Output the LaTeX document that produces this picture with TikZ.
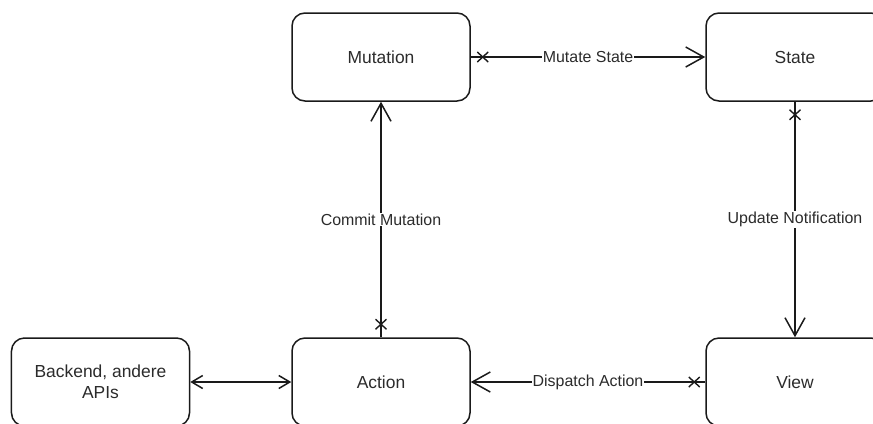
\documentclass[tikz,border=0pt]{standalone}
\usepackage{fontspec}
\setmainfont{Liberation Sans}
\usetikzlibrary{arrows.meta}
\definecolor{ink}{HTML}{1A1A1A}
\definecolor{txt}{HTML}{2B2B2B}
\begin{document}
\begin{tikzpicture}[x=1bp,y=-1bp,
  box/.style={draw=ink, line width=1.5bp, rounded corners=13bp,
    minimum width=178bp, minimum height=88bp, inner sep=0pt,
    align=center, text=txt, font=\fontsize{17.5}{21}\selectfont},
  link/.style={draw=ink, line width=1.5bp},
  opentip/.style={-{Straight Barb[length=18bp,width=20bp,line width=1.5bp]}},
  smalltip/.style={{Straight Barb[length=11bp,width=13bp,line width=1.5bp]}-{Straight Barb[length=11bp,width=13bp,line width=1.5bp]}},
  edgelabel/.style={fill=white, inner sep=1bp, text=txt, font=\fontsize{16}{19}\selectfont},
  crossmark/.pic={\draw[draw=ink, line width=1.4bp] (-5.5,-5) -- (5.5,5) (-5.5,5) -- (5.5,-5);}
]
\useasboundingbox (0,0) rectangle (873,423);
\clip (0,0) rectangle (873,423);

% boxes
\node[box] (mut) at (381,57) {Mutation};
\node[box] (state) at (795,57) {State};
\node[box] (back) at (100.5,382) {Backend, andere\\APIs};
\node[box] (act) at (381,382) {Action};
\node[box] (view) at (795,382) {View};

% connectors
\draw[link, opentip] (mut.east) -- node[edgelabel] {Mutate State} (state.west);
\pic at ([xshift=12bp]mut.east) {crossmark};

\draw[link, opentip] (act.north) -- node[edgelabel] {Commit Mutation} (mut.south);
\pic at ([yshift=13bp]act.north) {crossmark};

\draw[link, opentip] (state.south) -- node[edgelabel] {Update Notification} (view.north);
\pic at ([yshift=-13bp]state.south) {crossmark};

\draw[link, opentip] (view.west) -- node[edgelabel] {Dispatch Action} (act.east);
\pic at ([xshift=-11bp]view.west) {crossmark};

\draw[link, smalltip] (back.east) -- (act.west);
\end{tikzpicture}
\end{document}
